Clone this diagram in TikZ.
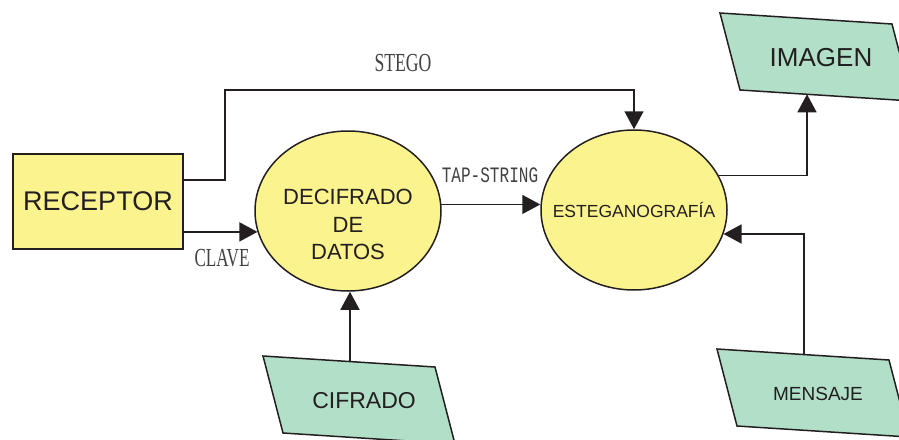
\documentclass[tikz,border=0pt]{standalone}
\usepackage{fontspec}
\setmainfont{Liberation Sans}
\newfontfamily\lblserif{Liberation Serif}
\newfontfamily\lblmono{Liberation Mono}
\usetikzlibrary{arrows.meta,shapes.geometric}

\definecolor{procyellow}{RGB}{250,243,142}
\definecolor{datagreen}{RGB}{178,223,200}
\definecolor{inkgray}{RGB}{35,31,32}

\tikzset{
  proc/.style={ellipse, draw=inkgray, fill=procyellow, line width=1.5pt,
    minimum width=186pt, minimum height=160pt, inner sep=0pt},
  ent/.style={rectangle, draw=inkgray, fill=procyellow, line width=1.5pt,
    minimum width=170pt, minimum height=95pt, text=inkgray},
  flow/.style={draw=inkgray, line width=1.5pt, -{Triangle[length=18pt,width=19pt]}},
  lbl/.style={font=\lblserif\fontsize{26}{26}\selectfont, text=inkgray!85},
  ptxt/.style={text=inkgray, align=center},
}

\begin{document}
\begin{tikzpicture}[x=1pt,y=-1pt]
  \useasboundingbox (0,0) rectangle (899,439);

  % data stores
  \foreach \nm/\x/\y/\fs in {IMAGEN/720/13/26, CIFRADO/263/356/23, MENSAJE/717/349/19} {
    \filldraw[draw=inkgray, fill=datagreen, line width=1.5pt] (\x,\y) -- ++(172,11) -- ++(20,77) -- ++(-172,-11) -- cycle;
    \node[ptxt, font=\fontsize{\fs}{\fs}\selectfont] (\nm) at ({\x+101},{\y+45}) {\nm};
    \coordinate (\nm-top) at ({\x+87},{\y+5.6});
    \coordinate (\nm-bot) at ({\x+87},{\y+81.3});
  };

  \node[ent, font=\fontsize{27}{27}\selectfont] (rec) at (98,201.5) {RECEPTOR};
  \node[proc] (dec) at (348,211) {};
  \node[ptxt, font=\fontsize{22}{27.5}\selectfont] (dec-txt) at (348,224.5) {DECIFRADO\\DE\\DATOS};
  \node[proc] (est) at (634,210) {};
  \node[ptxt, font=\fontsize{17.5}{17.5}\selectfont] (est-txt) at (est.center) {ESTEGANOGRAFÍA};

  % flows
  \draw[flow] ([yshift=21.5pt]rec.east) -| (225,90) -| (est.north);
  \node[lbl] (stego) at (403,63) {\scalebox{0.68}[1]{STEGO}};
  \draw[flow] (rec.east |- dec.193) -- (dec.193);
  \node[lbl] (clave) at (222,258) {\scalebox{0.66}[1]{CLAVE}};
  \draw[flow] (dec.4) -- (dec.4 -| est.west);
  \node[font=\lblmono\fontsize{22}{22}\selectfont, text=inkgray!85] (tap) at (490,175) {\scalebox{0.73}[1]{TAP-STRING}};
  \draw[flow] (est.22) -| (IMAGEN-bot);
  \draw[flow] (CIFRADO-top) -- (CIFRADO-top |- dec.south);
  \draw[flow] (MENSAJE-top) |- (est.345);
\end{tikzpicture}
\end{document}
